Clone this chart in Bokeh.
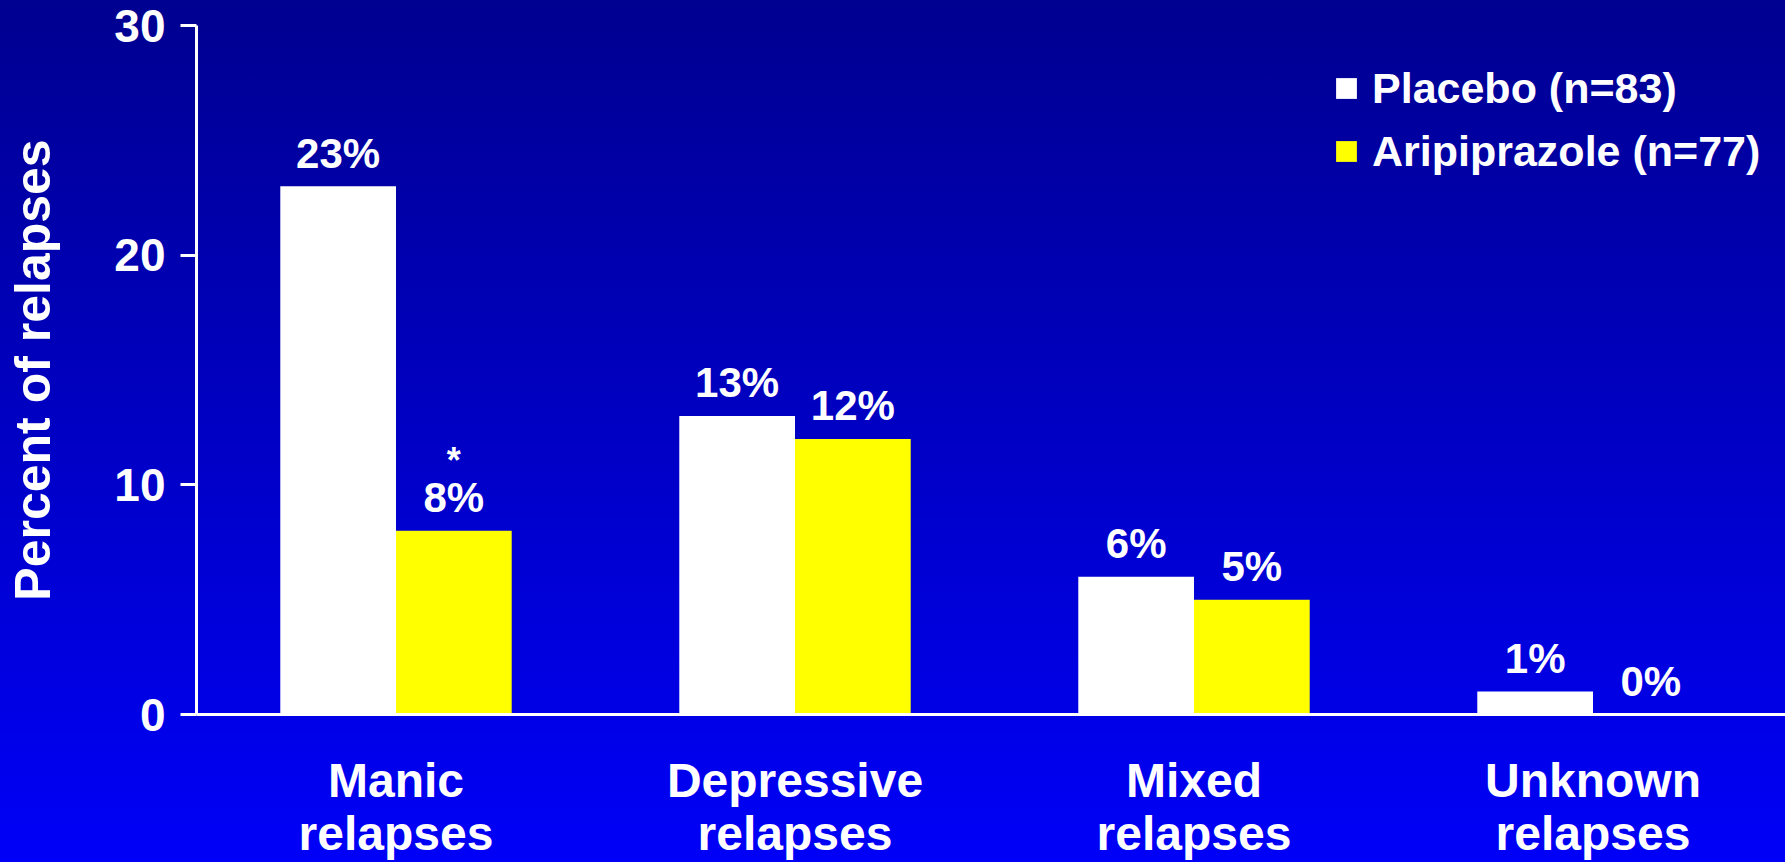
from bokeh.plotting import figure
from bokeh.models import Range1d, FixedTicker, ColumnDataSource, Legend, LegendItem
from bokeh.core.properties import value
from bokeh.transform import dodge
from bokeh.embed import file_html
from bokeh.resources import INLINE

# ---- data ----
categories = ["Manic relapses", "Depressive relapses", "Mixed relapses", "Unknown relapses"]
placebo = [23, 13, 6, 1]
aripiprazole = [8, 12, 5, 0]
significance = ["*", "", "", ""]
series_names = ["Placebo (n=83)", "Aripiprazole (n=77)"]
y_ticks = [0, 10, 20, 30]

# ---- layout / style ----
W, H = 1785, 862
LEFT, TOP, BOTTOM = 196, 25, 147
CAT_PX = 399
FONT = "Liberation Sans"
OFF = 0.145
BW = 0.29

centers = [i + 0.5 for i in range(len(categories))]
src = ColumnDataSource(dict(
    x=centers,
    placebo=placebo,
    ari=aripiprazole,
    pl_lab=[f"{v}%" for v in placebo],
    ar_lab=[f"{v}%" for v in aripiprazole],
    sig=significance,
))

p = figure(width=W, height=H, output_backend="svg", toolbar_location=None,
           x_range=Range1d(0, (W - LEFT) / CAT_PX), y_range=Range1d(0, 30),
           min_border_left=LEFT, min_border_right=0, min_border_top=TOP,
           min_border_bottom=BOTTOM)
p.background_fill_color = None
p.border_fill_color = None
p.outline_line_color = None
p.styles = {"background": "linear-gradient(to bottom, #000090, #0000f8)"}
p.xgrid.visible = False
p.ygrid.visible = False

r1 = p.vbar(x=dodge("x", -OFF, range=p.x_range), top="placebo", width=BW,
            source=src, fill_color="white", line_color=None)
r2 = p.vbar(x=dodge("x", OFF, range=p.x_range), top="ari", width=BW,
            source=src, fill_color="#ffff00", line_color=None)

txt = dict(text_align="center", text_baseline="alphabetic", text_color="white",
           text_font=value(FONT), text_font_style="bold", text_font_size="42px")
p.text(x=dodge("x", -OFF, range=p.x_range), y="placebo", text="pl_lab",
       y_offset=-33, source=src, **txt)
p.text(x=dodge("x", OFF, range=p.x_range), y="ari", text="ar_lab",
       y_offset=-33, source=src, **txt)
sig_txt = dict(txt)
sig_txt["text_font_size"] = "36px"
p.text(x=dodge("x", OFF, range=p.x_range), y="ari", text="sig",
       y_offset=-70, source=src, **sig_txt)

# y axis
ya = p.yaxis[0]
ya.ticker = FixedTicker(ticks=y_ticks)
ya.axis_line_color = "white"
ya.axis_line_width = 3
ya.major_tick_line_color = "white"
ya.major_tick_line_width = 3
ya.major_tick_out = 16
ya.major_tick_in = 0
ya.minor_tick_line_color = None
ya.major_label_standoff = 15
ya.major_label_text_color = "white"
ya.major_label_text_font = FONT
ya.major_label_text_font_style = "bold"
ya.major_label_text_font_size = "46px"
ya.axis_label = "Percent of relapses"
ya.axis_label_text_color = "white"
ya.axis_label_text_font = FONT
ya.axis_label_text_font_style = "bold"
ya.axis_label_text_font_size = "50px"
ya.axis_label_standoff = 50

# x axis
xa = p.xaxis[0]
xa.ticker = FixedTicker(ticks=centers)
xa.major_label_overrides = {c: lab.replace(" ", "\n") for c, lab in zip(centers, categories)}
xa.axis_line_color = "white"
xa.axis_line_width = 3
xa.major_tick_line_color = None
xa.major_tick_out = 0
xa.major_tick_in = 0
xa.minor_tick_line_color = None
xa.major_label_standoff = 39
xa.major_label_text_color = "white"
xa.major_label_text_font = FONT
xa.major_label_text_font_style = "bold"
xa.major_label_text_font_size = "48px"
xa.major_label_text_line_height = 1.0

legend = Legend(items=[LegendItem(label=series_names[0], renderers=[r1]),
                       LegendItem(label=series_names[1], renderers=[r2])],
                location=(1137, 537))
legend.label_text_font = FONT
legend.label_text_font_style = "bold"
legend.label_text_font_size = "43px"
legend.label_text_color = "white"
legend.glyph_width = 26
legend.glyph_height = 26
legend.label_standoff = 13
legend.label_height = 52
legend.spacing = 11
legend.padding = 0
legend.margin = 0
legend.border_line_color = None
legend.background_fill_alpha = 0
p.add_layout(legend)

open("out.html", "w").write(file_html(p, INLINE))
